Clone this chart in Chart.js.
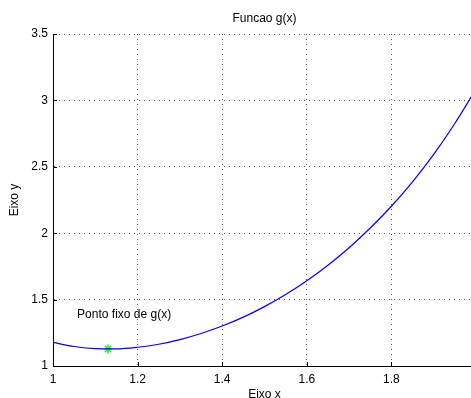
<!DOCTYPE html>
<html>
<head>
<meta charset="utf-8">
<script src="https://cdn.jsdelivr.net/npm/chart.js@4"></script>
<style>
  html, body { margin: 0; padding: 0; background: #fff; overflow: hidden; }
  /* wider than the window: the x=2 edge of the axes is cut off, as in the original */
  #wrap { position: absolute; left: 0; top: 0; width: 482px; height: 398px; }
  canvas { display: block; }
</style>
</head>
<body>
<div id="wrap"><canvas id="chart"></canvas></div>
<script>
// values
const xs = [1.00, 1.05, 1.10, 1.15, 1.20, 1.25, 1.30, 1.35, 1.40, 1.45, 1.50,
            1.55, 1.60, 1.65, 1.70, 1.75, 1.80, 1.85, 1.90, 1.95, 2.00];
const gx = [1.178, 1.147, 1.131, 1.129, 1.141, 1.164, 1.199, 1.245, 1.301, 1.368, 1.447,
            1.538, 1.642, 1.759, 1.891, 2.039, 2.203, 2.387, 2.593, 2.826, 3.086];
const fixedPoint = [1.13, 1.128];
const xTicks = [1, 1.2, 1.4, 1.6, 1.8, 2];
const yTicks = [1, 1.5, 2, 2.5, 3, 3.5];

const FONT = "'Liberation Sans', Arial, sans-serif";

// texts + inward ticks, matlab style
const extras = {
  id: "extras",
  afterDraw(chart) {
    const { ctx, chartArea: a, scales } = chart;
    ctx.save();
    ctx.strokeStyle = "#000";
    ctx.lineWidth = 1;
    ctx.beginPath();
    xTicks.forEach((v) => {
      const px = Math.round(scales.x.getPixelForValue(v)) + 0.5;
      ctx.moveTo(px, a.bottom);
      ctx.lineTo(px, a.bottom - 4);
    });
    yTicks.forEach((v) => {
      const py = Math.round(scales.y.getPixelForValue(v)) + 0.5;
      ctx.moveTo(a.left, py);
      ctx.lineTo(a.left + 4, py);
    });
    ctx.stroke();

    ctx.fillStyle = "#000";
    ctx.font = "12px " + FONT;
    ctx.textAlign = "center";
    ctx.textBaseline = "middle";
    ctx.fillText("Funcao g(x)", (a.left + a.right) / 2, 19);
    ctx.textBaseline = "top";
    ctx.fillText("Eixo x", (a.left + a.right) / 2, 389);

    ctx.save();
    ctx.translate(15, (a.top + a.bottom) / 2);
    ctx.rotate(-Math.PI / 2);
    ctx.textBaseline = "middle";
    ctx.fillText("Eixo y", 0, 0);
    ctx.restore();

    ctx.textAlign = "left";
    ctx.textBaseline = "middle";
    ctx.fillText("Ponto fixo de g(x)", scales.x.getPixelForValue(1.057), scales.y.getPixelForValue(1.39));
    ctx.restore();
  },
};

new Chart(document.getElementById("chart"), {
  type: "line",
  data: {
    datasets: [
      {
        data: xs.map((x, i) => ({ x: x, y: gx[i] })),
        borderColor: "#0000ff",
        borderWidth: 1.2,
        pointRadius: 0,
        cubicInterpolationMode: "monotone",
      },
      {
        data: [{ x: fixedPoint[0], y: fixedPoint[1] }],
        showLine: false,
        pointStyle: "star",
        pointRadius: 4.5,
        borderColor: "#22ee22",
        backgroundColor: "#22ee22",
        borderWidth: 1.5,
      },
    ],
  },
  plugins: [extras],
  options: {
    responsive: true,
    maintainAspectRatio: false,
    animation: false,
    clip: false,
    layout: { padding: { top: 34, right: 0, left: 0, bottom: 0 } },
    plugins: { legend: { display: false }, tooltip: { enabled: false } },
    scales: {
      x: {
        type: "linear",
        min: 1,
        max: 2,
        afterBuildTicks: (s) => { s.ticks = xTicks.map((v) => ({ value: v })); },
        afterFit: (s) => { s.height = 32; },
        ticks: {
          color: "#000",
          font: { family: FONT, size: 12 },
          padding: 6,
          maxRotation: 0,
          // the "2" label falls outside the picture
          callback: (v) => (v >= 2 ? "" : String(v)),
        },
        grid: { color: "#555", drawTicks: false, lineWidth: 1 },
        border: { color: "#000", width: 1, dash: [1, 4] },
      },
      y: {
        min: 1,
        max: 3.5,
        afterBuildTicks: (s) => { s.ticks = yTicks.map((v) => ({ value: v })); },
        afterFit: (s) => { s.width = 53; },
        ticks: {
          color: "#000",
          font: { family: FONT, size: 12 },
          padding: 5,
          callback: (v) => String(v),
        },
        grid: { color: "#555", drawTicks: false, lineWidth: 1 },
        border: { color: "#000", width: 1, dash: [1, 4] },
      },
    },
  },
});
</script>
</body>
</html>
